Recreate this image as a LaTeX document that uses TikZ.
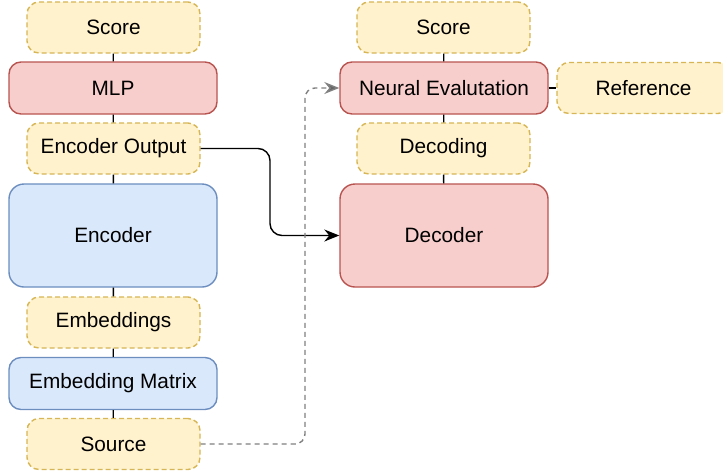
\documentclass[tikz,border=0pt]{standalone}
\usepackage{fontspec}
\setmainfont{Liberation Sans}
\usetikzlibrary{arrows.meta}
\definecolor{yfill}{HTML}{FFF2CC}
\definecolor{ydraw}{HTML}{D6B656}
\definecolor{rfill}{HTML}{F8CECC}
\definecolor{rdraw}{HTML}{B85450}
\definecolor{bfill}{HTML}{DAE8FC}
\definecolor{bdraw}{HTML}{6C8EBF}
\tikzset{
  base/.style={rounded corners=12pt, line width=1.4pt, inner sep=0pt, font=\fontsize{20.8}{24}\selectfont},
  ybox/.style={base, fill=yfill, draw=ydraw, dash pattern=on 5pt off 3pt, minimum width=173pt, minimum height=51pt},
  rbox/.style={base, fill=rfill, draw=rdraw, minimum width=208pt, minimum height=52pt},
  bbox/.style={base, fill=bfill, draw=bdraw, minimum width=208pt, minimum height=52pt},
  link/.style={line width=1.4pt},
}
\begin{document}
\begin{tikzpicture}[x=1pt,y=-1pt]
\useasboundingbox (0,0) rectangle (723,472);
\clip (0,0) rectangle (723,472);
\node[ybox] (score1) at (113.5,27.5) {Score};
\node[rbox] (mlp) at (113,88) {MLP};
\node[ybox] (encout) at (113.5,148.5) {Encoder Output};
\node[bbox, minimum height=103pt, rounded corners=15pt] (enc) at (113,235.5) {Encoder};
\node[ybox] (emb) at (113.5,322.5) {Embeddings};
\node[bbox] (embm) at (113,383.5) {Embedding Matrix};
\node[ybox] (src) at (113.5,444) {Source};

\node[ybox] (score2) at (443.5,27.5) {Score};
\node[rbox] (neval) at (444,88) {Neural Evalutation};
\node[ybox] (ref) at (643.5,88) {Reference};
\node[ybox] (dec) at (443.5,148.5) {Decoding};
\node[rbox, minimum height=103pt, rounded corners=15pt] (decoder) at (444,235.5) {Decoder};

\draw[link] (score1) -- (mlp);
\draw[link] (mlp) -- (encout);
\draw[link] (encout) -- (enc);
\draw[link] (enc) -- (emb);
\draw[link] (emb) -- (embm);
\draw[link] (embm) -- (src);
\draw[link] (score2) -- (neval);
\draw[link] (neval) -- (dec);
\draw[link] (dec) -- (decoder);
\draw[link] (neval) -- (ref);

\draw[link, rounded corners=12pt, -{Stealth[length=15pt,width=12pt,inset=5pt]}]
  (encout.east) -- (270,148.5) -- (270,235.5) -- (decoder.west);
\draw[line width=1.4pt, draw=black!50, dash pattern=on 5pt off 4pt, rounded corners=10pt,
  -{Stealth[length=15pt,width=12pt,inset=5pt,fill=black!60]}]
  (src.east) -- (305,444) -- (305,88) -- (neval.west);
\end{tikzpicture}
\end{document}
